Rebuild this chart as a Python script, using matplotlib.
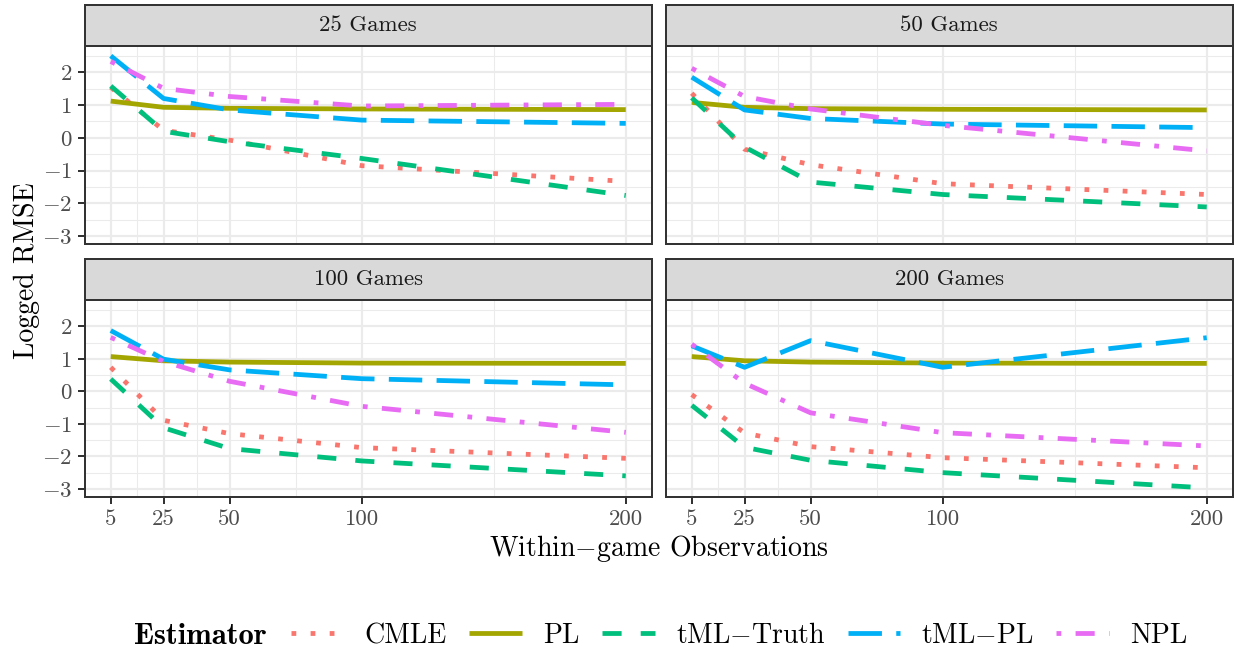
import matplotlib
matplotlib.use("Agg")
import matplotlib.pyplot as plt
from matplotlib.ticker import FixedLocator, FixedFormatter
from matplotlib.lines import Line2D

# ---------------- data ----------------
x_obs = [5, 25, 50, 100, 200]
panels = ["25 Games", "50 Games", "100 Games", "200 Games"]
estimators = ["CMLE", "PL", "tML\u2212Truth", "tML\u2212PL", "NPL"]

# one row per panel (25, 50, 100, 200 games), one value per x_obs
cmle = [[1.54, 0.23, -0.07, -0.85, -1.33],
        [1.36, -0.35, -0.82, -1.40, -1.73],
        [0.74, -0.89, -1.30, -1.73, -2.06],
        [-0.10, -1.28, -1.70, -2.04, -2.35]]
pl = [[1.12, 0.93, 0.90, 0.88, 0.86],
      [1.08, 0.93, 0.89, 0.87, 0.85],
      [1.07, 0.94, 0.90, 0.87, 0.86],
      [1.07, 0.94, 0.90, 0.87, 0.86]]
tml_truth = [[1.58, 0.20, -0.12, -0.63, -1.76],
             [1.22, -0.28, -1.35, -1.73, -2.11],
             [0.38, -1.12, -1.76, -2.14, -2.60],
             [-0.43, -1.72, -2.12, -2.50, -2.97]]
tml_pl = [[2.50, 1.20, 0.85, 0.54, 0.44],
          [1.85, 0.85, 0.59, 0.42, 0.31],
          [1.87, 0.99, 0.66, 0.39, 0.20],
          [1.40, 0.74, 1.56, 0.74, 1.65]]
npl = [[2.33, 1.51, 1.26, 0.97, 1.02],
       [2.12, 1.26, 0.88, 0.38, -0.40],
       [1.66, 0.92, 0.31, -0.46, -1.26],
       [1.45, 0.25, -0.66, -1.27, -1.68]]

x_ticks = [5, 25, 50, 100, 200]
x_minor = [15, 37.5, 75, 150]
y_ticks = [-3, -2, -1, 0, 1, 2]
y_minor = [-2.5, -1.5, -0.5, 0.5, 1.5, 2.5]

series = [cmle, pl, tml_truth, tml_pl, npl]
colors = ["#F8766D", "#A3A500", "#00BF7D", "#00B0F6", "#E76BF3"]
dashes = [(0, (1, 3)), "solid", (0, (4, 4)), (0, (7, 3)), (0, (1, 3, 4, 3))]

# ---------------- style ----------------
plt.rcParams["font.family"] = ["cmr10", "DejaVu Serif"]
plt.rcParams["mathtext.fontset"] = "cm"
plt.rcParams["axes.unicode_minus"] = False

W, H, DPI = 1242, 658, 191
fig = plt.figure(figsize=(W / DPI, H / DPI), dpi=DPI)
fig.patch.set_facecolor("white")

def mlabel(s):
    return s.replace("\u2212", "$-$")

def num_label(v):
    return ("$-$%d" % abs(v)) if v < 0 else "%d" % v

grey20 = "#333333"
grey30 = "#4D4D4D"
lw_border = 0.75
tick_fs = 8.6
title_fs = 10.5

col_left = [85, 666]
panel_w = 566.5
row_top = [45.7, 300.0]
row_bot = [244.0, 496.7]
strip_top = [5.0, 259.0]

xlim = (5 - 0.05 * 195, 200 + 0.05 * 195)
ylim = (-3.24, 2.81)

axes = []
for i, name in enumerate(panels):
    r, c = divmod(i, 2)
    left = col_left[c] / W
    bottom = 1 - row_bot[r] / H
    height = (row_bot[r] - row_top[r]) / H
    ax = fig.add_axes([left, bottom, panel_w / W, height])
    axes.append(ax)
    ax.set_xlim(*xlim)
    ax.set_ylim(*ylim)
    ax.set_facecolor("white")
    ax.xaxis.set_major_locator(FixedLocator(x_ticks))
    ax.xaxis.set_minor_locator(FixedLocator(x_minor))
    ax.yaxis.set_major_locator(FixedLocator(y_ticks))
    ax.yaxis.set_minor_locator(FixedLocator(y_minor))
    ax.grid(which="major", color="#EBEBEB", lw=0.8, zorder=0)
    ax.grid(which="minor", color="#EBEBEB", lw=0.4, zorder=0)
    ax.set_axisbelow(True)
    for sp in ax.spines.values():
        sp.set_color(grey20)
        sp.set_linewidth(lw_border)
    ax.tick_params(which="minor", length=0)
    ax.tick_params(which="major", length=2.75, width=lw_border, color=grey20,
                   labelcolor=grey30, labelsize=tick_fs, pad=2.2)
    if r == 1:
        ax.xaxis.set_major_formatter(FixedFormatter([num_label(v) for v in x_ticks]))
    else:
        ax.tick_params(axis="x", which="major", length=0, labelbottom=False)
    if c == 0:
        ax.yaxis.set_major_formatter(FixedFormatter([num_label(v) for v in y_ticks]))
    else:
        ax.tick_params(axis="y", which="major", length=0, labelleft=False)

    for k, est in enumerate(estimators):
        ax.plot(x_obs, series[k][i], color=colors[k], linestyle=dashes[k], lw=1.8,
                solid_capstyle="butt", dash_capstyle="butt", label=mlabel(est), zorder=3)

    # strip
    sax = fig.add_axes([left, 1 - row_top[r] / H, panel_w / W, (row_top[r] - strip_top[r]) / H])
    sax.set_facecolor("#D9D9D9")
    sax.set_xticks([])
    sax.set_yticks([])
    for sp in sax.spines.values():
        sp.set_color(grey20)
        sp.set_linewidth(lw_border)
    sax.text(0.5, 0.5, name, ha="center", va="center", fontsize=tick_fs, color="#1A1A1A",
             transform=sax.transAxes)

# axis titles
fig.text((85 + 1232.5) / 2 / W, 1 - 548 / H, "Within$-$game Observations", ha="center",
         va="center", fontsize=title_fs, color="black")
fig.text(27 / W, 1 - 271 / H, "Logged RMSE", ha="center", va="center", rotation=90,
         fontsize=title_fs, color="black")

# legend
handles = [Line2D([], [], color=colors[k], linestyle=dashes[k], lw=1.8,
                  solid_capstyle="butt", dash_capstyle="butt") for k in range(len(estimators))]
fig.text(134 / W, 1 - 636 / H, "Estimator", ha="left", va="center", fontsize=11.5,
         fontfamily=["cmb10", "DejaVu Serif"], color="black")
fig.legend(handles, [mlabel(e) for e in estimators], ncol=5, loc="center left",
           bbox_to_anchor=(291 / W, 1 - 636 / H), frameon=False, fontsize=title_fs,
           handlelength=1.9, handletextpad=0.75, columnspacing=0.8, borderpad=0,
           borderaxespad=0)

fig.savefig("out.png", dpi=DPI, facecolor="white")
